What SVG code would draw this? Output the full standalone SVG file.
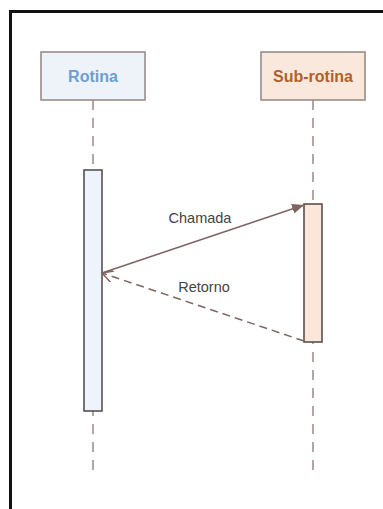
<svg xmlns="http://www.w3.org/2000/svg" width="383" height="509" viewBox="0 0 383 509">
<style>
.frame{fill:none;stroke:#111;stroke-width:3}
.head{stroke:#9a8c8a;stroke-width:1.6}
.life{fill:none;stroke:#b3a7a6;stroke-width:2;stroke-dasharray:10 8}
.act{stroke:#5a504e;stroke-width:1.6}
.msg{fill:none;stroke:#7d6560;stroke-width:1.5}
.ret{stroke-dasharray:8 5}
.t{font-family:"Liberation Sans",Arial,sans-serif;font-weight:bold;font-size:16px;text-anchor:middle}
.lbl{font-family:"Liberation Sans",Arial,sans-serif;font-size:14.5px;fill:#444;text-anchor:middle}
</style>
<defs>
<marker id="filled" viewBox="0 0 12 10" refX="12" refY="5" markerWidth="12" markerHeight="10" markerUnits="userSpaceOnUse" orient="auto">
<path d="M0,0 L12,5 L0,10 Z" fill="#7d6560"/>
</marker>
<marker id="open" viewBox="0 0 12 12" refX="11" refY="6" markerWidth="12" markerHeight="12" markerUnits="userSpaceOnUse" orient="auto">
<path d="M0,0 L11,6 L0,12" fill="none" stroke="#7d6560" stroke-width="1.5"/>
</marker>
</defs>
<rect width="383" height="509" fill="#fff"/>
<path class="frame" d="M10.5,509 V11.5 H383"/>
<g id="lifelines">
<line class="life" x1="93" y1="100" x2="93" y2="471"/>
<line class="life" x1="313" y1="100" x2="313" y2="471"/>
</g>
<g id="rotina">
<rect class="head" x="41" y="52" width="104" height="48" fill="#eef3fa"/>
<text class="t" x="93" y="82" fill="#6c9fcf">Rotina</text>
</g>
<g id="sub-rotina">
<rect class="head" x="261" y="52" width="104" height="48" fill="#fbe8dc"/>
<text class="t" x="313" y="82" fill="#b0602c">Sub-rotina</text>
</g>
<g id="rotina-activation">
<rect class="act" x="84" y="170" width="18" height="241" fill="#eef4fb"/>
</g>
<g id="sub-rotina-activation">
<rect class="act" x="304" y="204" width="18" height="138" fill="#fbe6da"/>
</g>
<g id="connectors">
<line class="msg" x1="102" y1="273" x2="304" y2="205" marker-end="url(#filled)"/>
<line class="msg ret" x1="304" y1="341" x2="102" y2="273" marker-end="url(#open)"/>
</g>
<g id="labels">
<text class="lbl" x="200" y="223">Chamada</text>
<text class="lbl" x="204" y="292">Retorno</text>
</g>
</svg>
